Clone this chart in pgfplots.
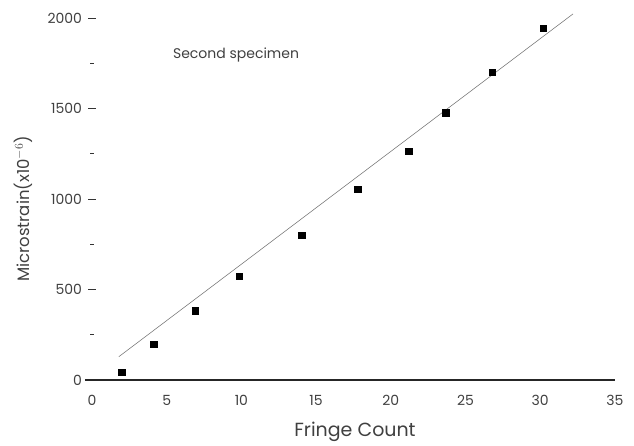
\documentclass[border=0pt]{standalone}
\usepackage{pgfplots}
\pgfplotsset{compat=1.18}
\usepackage{fontspec}
\setmainfont{Poppins}
\begin{document}
\begin{tikzpicture}
\path[use as bounding box] (0,0) rectangle (634pt,446pt);
\begin{axis}[
  at={(92pt,66pt)}, anchor=origin,
  scale only axis, width=522.9pt, height=371pt,
  xmin=0, xmax=35, ymin=0, ymax=2050,
  axis x line*=bottom, axis y line*=left,
  x axis line style={-, shorten <=-7pt, line width=1.2pt, black!85},
  y axis line style={draw=none},
  /pgf/number format/assume math mode=true,
  xtick={0,5,...,35},
  ytick={0,500,1000,1500,2000},
  minor ytick={250,750,1250,1750},
  scaled ticks=false,
  /pgf/number format/1000 sep={},
  tick align=center,
  major tick length=7pt, minor tick length=3pt,
  xtick style={draw=none},
  ytick style={line width=0.9pt, black!80},
  tick label style={font=\fontsize{14}{14}\selectfont, text=black!75},
  xticklabel style={yshift=-8pt},
  yticklabel style={xshift=-3pt},
  xlabel={Fringe Count},
  ylabel={Microstrain(x10$^{-6}$)},
  xlabel style={at={(axis description cs:0.503,-0.14)}, anchor=center,
    font=\fontsize{19}{19}\selectfont, text=black!75},
  ylabel style={at={(axis description cs:-0.132,0.461)}, anchor=center,
    font=\fontsize{16.5}{16.5}\selectfont, text=black!75},
  clip=false,
]
\addplot[black!55, line width=0.55pt] coordinates {(1.8,129) (32.2,2023)};
\addplot[only marks, mark=square*, mark size=3.2pt, black] coordinates {
  (2.0,44) (4.13,197) (6.89,383) (9.84,574) (14.04,799)
  (17.78,1054) (21.2,1265) (23.67,1477) (26.8,1702) (30.2,1943)
};
\node[font=\fontsize{14}{14}\selectfont, text=black!75] at (axis cs:9.64,1796) {Second specimen};
\end{axis}
\end{tikzpicture}
\end{document}
